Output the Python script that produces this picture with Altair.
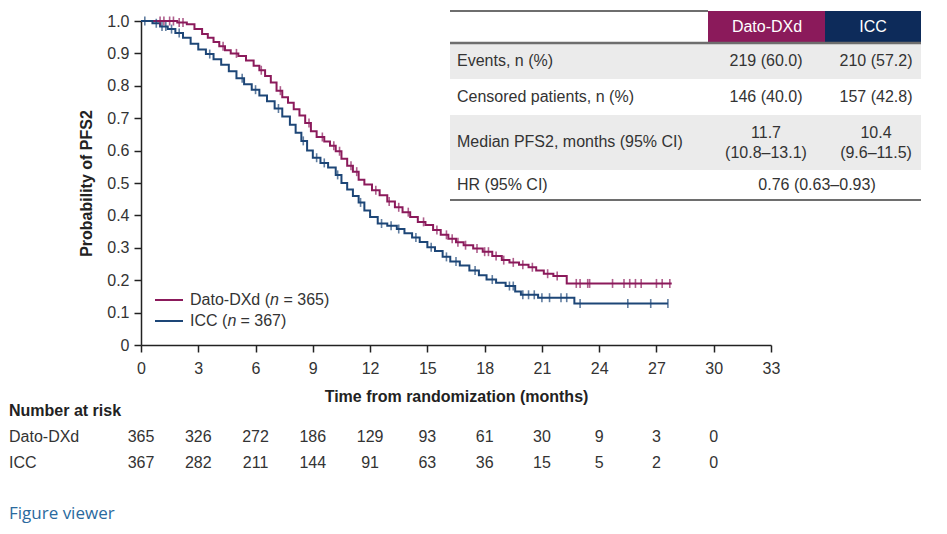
import altair as alt
import pandas as pd

# ---------------- data ----------------
dato_t = [0, 1.9, 2.4, 2.8, 3.2, 3.5, 3.8, 4.1, 4.4, 4.7, 5.1, 5.5, 5.9, 6.2, 6.5, 6.8, 7.1, 7.4, 7.7,
          8.0, 8.3, 8.6, 8.9, 9.2, 9.6, 9.9, 10.2, 10.5, 10.8, 11.1, 11.4, 11.7, 12.1, 12.5, 12.9, 13.3,
          13.7, 14.1, 14.5, 14.9, 15.3, 15.7, 16.1, 16.5, 16.9, 17.4, 17.9, 18.4, 18.9, 19.3, 19.8, 20.3,
          20.7, 21.1, 21.6, 22.3, 27.8]
dato_s = [1.0, 0.995, 0.99, 0.975, 0.96, 0.948, 0.935, 0.922, 0.91, 0.90, 0.892, 0.878, 0.862, 0.848,
          0.83, 0.81, 0.785, 0.765, 0.748, 0.728, 0.708, 0.685, 0.66, 0.642, 0.628, 0.615, 0.598, 0.575,
          0.553, 0.535, 0.51, 0.495, 0.478, 0.462, 0.443, 0.425, 0.41, 0.395, 0.38, 0.37, 0.355, 0.34,
          0.328, 0.317, 0.308, 0.298, 0.288, 0.275, 0.262, 0.255, 0.248, 0.24, 0.23, 0.22, 0.213, 0.19, 0.19]

icc_t = [0, 0.6, 1.0, 1.4, 1.8, 2.2, 2.6, 3.0, 3.4, 3.8, 4.2, 4.6, 5.0, 5.4, 5.8, 6.2, 6.6, 7.0, 7.4,
         7.8, 8.1, 8.4, 8.7, 9.0, 9.4, 9.8, 10.2, 10.5, 10.8, 11.1, 11.4, 11.7, 12.0, 12.4, 12.9, 13.4,
         13.8, 14.2, 14.6, 15.0, 15.4, 15.8, 16.2, 16.7, 17.2, 17.7, 18.1, 18.6, 19.1, 19.6, 19.9, 20.8,
         22.7, 27.6]
icc_s = [1.0, 0.993, 0.983, 0.975, 0.963, 0.948, 0.93, 0.912, 0.898, 0.882, 0.865, 0.845, 0.823, 0.805,
         0.788, 0.77, 0.752, 0.73, 0.705, 0.68, 0.655, 0.63, 0.60, 0.578, 0.562, 0.548, 0.525, 0.50,
         0.48, 0.46, 0.44, 0.415, 0.395, 0.375, 0.368, 0.358, 0.345, 0.332, 0.318, 0.302, 0.29, 0.272,
         0.258, 0.245, 0.23, 0.215, 0.202, 0.192, 0.182, 0.165, 0.155, 0.146, 0.128, 0.128]

dato_cens = [1.0, 1.2, 1.5, 1.7, 2.0, 2.2, 4.3, 5.0, 6.3, 7.3, 8.8, 9.5, 10.1, 10.4, 11.0, 11.3, 12.3,
             13.0, 13.5, 14.0, 14.8, 15.5, 16.0, 16.3, 16.6, 17.0, 17.6, 18.0, 18.2, 18.6, 19.0, 19.5,
             20.0, 20.5, 21.3, 21.8, 22.8, 23.0, 23.4, 23.5, 24.7, 25.3, 25.6, 25.9, 26.2, 27.0, 27.3, 27.7]
icc_cens = [0.2, 0.8, 1.1, 1.3, 1.6, 2.0, 3.6, 5.3, 6.0, 7.2, 8.5, 9.2, 9.6, 10.3, 11.5, 12.6, 13.1,
            13.5, 14.4, 15.2, 16.0, 16.5, 17.5, 18.4, 19.3, 19.5, 20.0, 20.3, 20.6, 21.0, 21.4, 22.0,
            22.3, 23.0, 25.5, 26.7, 27.6]

arms = ["Dato-DXd", "ICC"]
arm_colors = ["#8B1A5B", "#1D4677"]

x_ticks = [0, 3, 6, 9, 12, 15, 18, 21, 24, 27, 30, 33]
y_ticks = [0, 0.1, 0.2, 0.3, 0.4, 0.5, 0.6, 0.7, 0.8, 0.9, 1.0]

risk_times = [0, 3, 6, 9, 12, 15, 18, 21, 24, 27, 30]
risk_dato = [365, 326, 272, 186, 129, 93, 61, 30, 9, 3, 0]
risk_icc = [367, 282, 211, 144, 91, 63, 36, 15, 5, 2, 0]

table_labels = ["Events, n (%)", "Censored patients, n (%)", "Median PFS2, months (95% CI)", "HR (95% CI)"]
table_dato = ["219 (60.0)", "146 (40.0)", "11.7\n(10.8–13.1)"]
table_icc = ["210 (57.2)", "157 (42.8)", "10.4\n(9.6–11.5)"]
table_hr = "0.76 (0.63–0.93)"

FONT = "Liberation Sans"
TXT = "#333333"


def step_value(ts, ss, t):
    v = ss[0]
    for tt, s in zip(ts, ss):
        if tt <= t:
            v = s
    return v


curves = pd.concat([
    pd.DataFrame({"t": dato_t, "s": dato_s, "arm": arms[0]}),
    pd.DataFrame({"t": icc_t, "s": icc_s, "arm": arms[1]}),
])
cens = pd.concat([
    pd.DataFrame({"t": dato_cens, "s": [step_value(dato_t, dato_s, c) for c in dato_cens], "arm": arms[0]}),
    pd.DataFrame({"t": icc_cens, "s": [step_value(icc_t, icc_s, c) for c in icc_cens], "arm": arms[1]}),
])

xscale = alt.Scale(domain=[0, 33], nice=False, zero=False)
yscale = alt.Scale(domain=[0, 1], nice=False)
cscale = alt.Scale(domain=arms, range=arm_colors)

xaxis = alt.Axis(values=x_ticks, title="Time from randomization (months)",
                 grid=False, tickSize=7, labelPadding=8, titlePadding=12, labelFlush=False,
                 labelOverlap=False)
yaxis = alt.Axis(values=y_ticks, title="Probability of PFS2", grid=False,
                 tickSize=7, labelPadding=5, titlePadding=12, labelOverlap=False, labelFlush=False,
                 labelExpr="datum.value == 0 ? '0' : format(datum.value, '.1f')")

lines = alt.Chart(curves).mark_line(interpolate="step-after", strokeWidth=2).encode(
    x=alt.X("t:Q", scale=xscale, axis=xaxis),
    y=alt.Y("s:Q", scale=yscale, axis=yaxis),
    color=alt.Color("arm:N", scale=cscale, legend=None),
    order=alt.Order("t:Q"),
)

ticks = alt.Chart(cens).mark_tick(orient="vertical", size=9, thickness=1.6).encode(
    x=alt.X("t:Q", scale=xscale, axis=xaxis),
    y=alt.Y("s:Q", scale=yscale, axis=yaxis),
    color=alt.Color("arm:N", scale=cscale, legend=None),
)

# --- number at risk ---
risk_df = pd.concat([
    pd.DataFrame({"t": risk_times, "n": risk_dato, "py": 416}),
    pd.DataFrame({"t": risk_times, "n": risk_icc, "py": 442}),
])
risk_nums = alt.Chart(risk_df).mark_text(fontSize=16, color=TXT, baseline="middle", align="center").encode(
    x=alt.X("t:Q", scale=xscale, axis=xaxis), y=alt.Y("py:Q", scale=None), text="n:Q")

left_text = alt.Chart(pd.DataFrame({
    "txt": ["Dato-DXd", "ICC"], "px": [-132, -132], "py": [416, 442]})).mark_text(
    fontSize=16, color=TXT, align="left", baseline="middle").encode(
    x=alt.X("px:Q", scale=None), y=alt.Y("py:Q", scale=None), text="txt:N")

risk_title = alt.Chart(pd.DataFrame({"txt": ["Number at risk"], "px": [-132], "py": [390]})).mark_text(
    fontSize=16, fontWeight="bold", color="#222222", align="left", baseline="middle").encode(
    x=alt.X("px:Q", scale=None), y=alt.Y("py:Q", scale=None), text="txt:N")

fig_viewer = alt.Chart(pd.DataFrame({"txt": ["Figure viewer"], "px": [-132], "py": [493]})).mark_text(
    fontSize=17, color="#2A6A9E", align="left", baseline="middle", font="Open Sans").encode(
    x=alt.X("px:Q", scale=None), y=alt.Y("py:Q", scale=None), text="txt:N")

# --- legend ---
leg_lines = alt.Chart(pd.DataFrame({
    "x": [14, 14], "x2": [42, 42], "y": [279, 300], "arm": arms})).mark_rule(strokeWidth=2).encode(
    x=alt.X("x:Q", scale=None), x2="x2:Q", y=alt.Y("y:Q", scale=None),
    color=alt.Color("arm:N", scale=cscale, legend=None))
leg_txt_a = alt.Chart(pd.DataFrame({
    "txt": ["Dato-DXd (", "ICC (", "= 365)", "= 367)"],
    "px": [49, 49, 142.5, 99.5], "py": [279, 300, 279, 300]})).mark_text(
    fontSize=16, color=TXT, align="left", baseline="middle").encode(
    x=alt.X("px:Q", scale=None), y=alt.Y("py:Q", scale=None), text="txt:N")
leg_txt_n = alt.Chart(pd.DataFrame({"txt": ["n", "n"], "px": [129, 86.5], "py": [279, 300]})).mark_text(
    fontSize=16, color=TXT, align="left", baseline="middle", fontStyle="italic").encode(
    x=alt.X("px:Q", scale=None), y=alt.Y("py:Q", scale=None), text="txt:N")

# --- summary table (positions in plot pixels) ---
rects = alt.Chart(pd.DataFrame({
    "x": [567, 684, 309, 309], "x2": [684, 780, 780, 780],
    "y": [-10, -10, 22, 94], "y2": [22, 22, 58, 149],
    "c": ["#8B1A5B", "#0D2B5A", "#EBEBEB", "#EBEBEB"]})).mark_rect().encode(
    x=alt.X("x:Q", scale=None), x2="x2:Q", y=alt.Y("y:Q", scale=None), y2="y2:Q",
    color=alt.Color("c:N", scale=None))

rules = alt.Chart(pd.DataFrame({
    "x": [309, 309, 309], "x2": [567, 780, 780], "y": [-10, 22, 179], "w": [2, 2.5, 2]})).mark_rule(
    color="#6E6E6E").encode(
    x=alt.X("x:Q", scale=None), x2="x2:Q", y=alt.Y("y:Q", scale=None),
    strokeWidth=alt.StrokeWidth("w:Q", scale=None))

header = alt.Chart(pd.DataFrame({"txt": arms, "px": [626, 732], "py": [6, 6]})).mark_text(
    fontSize=16, color="white", align="center", baseline="middle").encode(
    x=alt.X("px:Q", scale=None), y=alt.Y("py:Q", scale=None), text="txt:N")

row_labels = alt.Chart(pd.DataFrame({"txt": table_labels, "px": [316] * 4,
                                     "py": [40, 76, 121, 164]})).mark_text(
    fontSize=16, color=TXT, align="left", baseline="middle").encode(
    x=alt.X("px:Q", scale=None), y=alt.Y("py:Q", scale=None), text="txt:N")

cell_df = pd.DataFrame({
    "txt": table_dato + table_icc + [table_hr],
    "px": [625, 625, 625, 735, 735, 735, 676],
    "py": [40, 76, 112, 40, 76, 112, 164]})
cells = alt.Chart(cell_df).mark_text(
    fontSize=16, color=TXT, align="center", baseline="middle", lineBreak="\n", lineHeight=20).encode(
    x=alt.X("px:Q", scale=None), y=alt.Y("py:Q", scale=None), text="txt:N")

chart = alt.layer(
    lines, rects, rules, header, row_labels, cells,
    ticks, risk_nums, left_text, risk_title, fig_viewer,
    leg_lines, leg_txt_a, leg_txt_n,
).properties(
    width=630, height=324,
    autosize=alt.AutoSizeParams(type="none"),
    padding={"left": 133, "top": 13, "right": 168, "bottom": 181},
).configure(font=FONT).configure_view(stroke=None).configure_axis(
    labelFontSize=16, titleFontSize=16, labelColor=TXT, titleColor="#222222",
    titleFontWeight="bold", domainColor="#222222", tickColor="#222222", domainWidth=1.5, tickWidth=1.5,
    labelFont=FONT, titleFont=FONT,
).configure_text(font=FONT)

chart.save("out.html", embed_options={"renderer": "svg", "actions": False})
